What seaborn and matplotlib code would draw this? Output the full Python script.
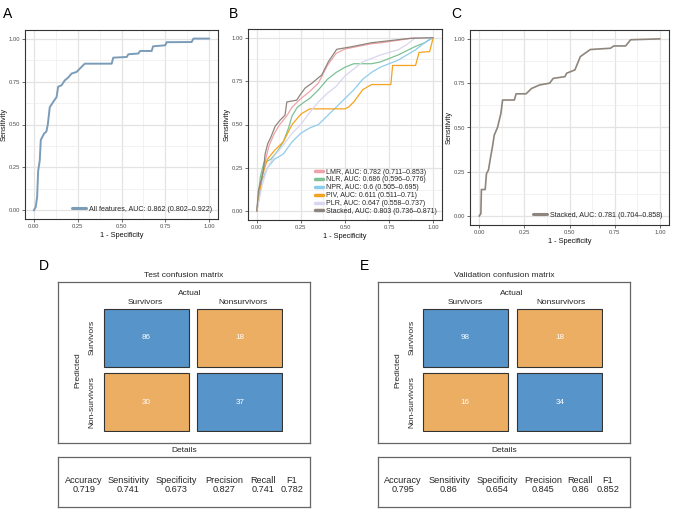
import matplotlib
matplotlib.use("Agg")
import matplotlib.pyplot as plt
import seaborn as sns
import pandas as pd
import numpy as np

# ---------------- data ----------------
a_fpr = [0, 0.011, 0.019, 0.025, 0.034, 0.04, 0.05, 0.059, 0.072, 0.08, 0.091, 0.11, 0.13, 0.139,
         0.158, 0.177, 0.196, 0.215, 0.244, 0.272, 0.291, 0.444, 0.453, 0.53, 0.539, 0.596, 0.606,
         0.672, 0.68, 0.749, 0.758, 0.9, 0.91, 1.0]
a_tpr = [0, 0.02, 0.078, 0.23, 0.29, 0.41, 0.43, 0.447, 0.46, 0.50, 0.60, 0.63, 0.66, 0.72,
         0.728, 0.757, 0.773, 0.796, 0.806, 0.835, 0.854, 0.854, 0.889, 0.893, 0.909, 0.913, 0.928,
         0.928, 0.955, 0.961, 0.979, 0.98, 1.0, 1.0]
a_label = "All features, AUC: 0.862 (0.802\u20130.922)"

b_models = ["LMR", "NLR", "NPR", "PIV", "PLR", "Stacked"]
b_labels = ["LMR, AUC: 0.782 (0.711\u20130.853)",
            "NLR, AUC: 0.686 (0.596\u20130.776)",
            "NPR, AUC: 0.6 (0.505\u20130.695)",
            "PIV, AUC: 0.611 (0.511\u20130.71)",
            "PLR, AUC: 0.647 (0.558\u20130.737)",
            "Stacked, AUC: 0.803 (0.736\u20130.871)"]
lmr_fpr = [0, 0.01, 0.03, 0.05, 0.07, 0.1, 0.13, 0.17, 0.2, 0.25, 0.3, 0.35, 0.4, 0.45, 0.5,
           0.55, 0.6, 0.65, 0.7, 0.8, 0.9, 1.0]
lmr_tpr = [0, 0.1, 0.2, 0.3, 0.38, 0.45, 0.5, 0.55, 0.6, 0.65, 0.69, 0.74, 0.84, 0.91, 0.935,
           0.945, 0.955, 0.965, 0.97, 0.985, 1.0, 1.0]
nlr_fpr = [0, 0.02, 0.04, 0.08, 0.12, 0.15, 0.18, 0.2, 0.23, 0.27, 0.3, 0.35, 0.4, 0.45, 0.5,
           0.55, 0.65, 0.7, 0.8, 0.9, 0.95, 0.98, 1.0]
nlr_tpr = [0, 0.2, 0.28, 0.3, 0.35, 0.4, 0.48, 0.55, 0.6, 0.63, 0.65, 0.7, 0.76, 0.8, 0.83,
           0.85, 0.85, 0.86, 0.9, 0.95, 0.97, 0.99, 1.0]
npr_fpr = [0, 0.03, 0.06, 0.1, 0.15, 0.2, 0.25, 0.3, 0.35, 0.4, 0.45, 0.5, 0.55, 0.6, 0.65,
           0.7, 0.75, 0.8, 0.85, 0.9, 0.95, 1.0]
npr_tpr = [0, 0.18, 0.25, 0.3, 0.33, 0.4, 0.45, 0.48, 0.5, 0.55, 0.6, 0.65, 0.7, 0.76, 0.8,
           0.83, 0.85, 0.87, 0.9, 0.93, 0.97, 1.0]
piv_fpr = [0, 0.03, 0.06, 0.1, 0.15, 0.2, 0.25, 0.3, 0.35, 0.5, 0.52, 0.55, 0.6, 0.65, 0.7,
           0.76, 0.77, 0.85, 0.9, 0.92, 0.98, 1.0]
piv_tpr = [0, 0.2, 0.3, 0.35, 0.4, 0.5, 0.56, 0.59, 0.59, 0.59, 0.6, 0.63, 0.7, 0.73, 0.73,
           0.73, 0.84, 0.84, 0.84, 0.915, 0.92, 1.0]
plr_fpr = [0, 0.03, 0.06, 0.1, 0.15, 0.2, 0.25, 0.3, 0.35, 0.4, 0.45, 0.5, 0.55, 0.6, 0.65,
           0.7, 0.8, 0.85, 0.9, 1.0]
plr_tpr = [0, 0.15, 0.25, 0.32, 0.38, 0.45, 0.5, 0.57, 0.63, 0.68, 0.72, 0.78, 0.82, 0.86, 0.88,
           0.9, 0.93, 0.96, 1.0, 1.0]
stk_fpr = [0, 0.009, 0.025, 0.038, 0.047, 0.062, 0.081, 0.104, 0.132, 0.16, 0.17, 0.226, 0.245,
           0.274, 0.311, 0.368, 0.406, 0.453, 0.538, 0.651, 0.868, 1.0]
stk_tpr = [0, 0.12, 0.18, 0.24, 0.33, 0.39, 0.43, 0.49, 0.525, 0.554, 0.63, 0.64, 0.67,
           0.71, 0.737, 0.785, 0.862, 0.933, 0.948, 0.971, 0.996, 1.0]

c_fpr = [0, 0.01, 0.013, 0.034, 0.041, 0.052, 0.065, 0.074, 0.084, 0.102, 0.121, 0.13, 0.195,
         0.205, 0.26, 0.29, 0.335, 0.39, 0.41, 0.475, 0.484, 0.53, 0.56, 0.615, 0.726, 0.745,
         0.81, 0.838, 1.0]
c_tpr = [0, 0.013, 0.15, 0.15, 0.24, 0.26, 0.34, 0.39, 0.457, 0.5, 0.58, 0.655, 0.655,
         0.69, 0.69, 0.72, 0.74, 0.75, 0.777, 0.787, 0.806, 0.825, 0.9, 0.94, 0.947, 0.96,
         0.96, 0.995, 1.0]
c_label = "Stacked, AUC: 0.781 (0.704\u20130.858)"

roc_ticks = [0, 0.25, 0.5, 0.75, 1.0]
roc_ticklabels = ["0.00", "0.25", "0.50", "0.75", "1.00"]

cm_classes = ["Survivors", "Nonsurvivors"]
cm_rows = ["Survivors", "Non-survivors"]
cm_test = [[86, 18], [30, 37]]
cm_valid = [[98, 18], [16, 34]]
metric_names = ["Accuracy", "Sensitivity", "Specificity", "Precision", "Recall", "F1"]
metrics_test = ["0.719", "0.741", "0.673", "0.827", "0.741", "0.782"]
metrics_valid = ["0.795", "0.86", "0.654", "0.845", "0.86", "0.852"]

# ---------------- style ----------------
sns.set_theme(style="white")
plt.rcParams['font.family'] = ['Liberation Sans', 'DejaVu Sans']

W, H = 676, 515
fig = plt.figure(figsize=(W / 100, H / 100), dpi=100)


def add_ax(x0, y0, x1, y1):
    return fig.add_axes([x0 / W, 1 - y1 / H, (x1 - x0) / W, (y1 - y0) / H])


def ftext(x, y, s, **kw):
    fig.text(x / W, 1 - y / H, s, **kw)


def style_roc(ax):
    ax.set_xlim(-0.05, 1.05)
    ax.set_ylim(-0.05, 1.05)
    ax.set_xticks(roc_ticks)
    ax.set_xticklabels(roc_ticklabels)
    ax.set_yticks(roc_ticks)
    ax.set_yticklabels(roc_ticklabels)
    ax.set_xticks([0.125, 0.375, 0.625, 0.875], minor=True)
    ax.set_yticks([0.125, 0.375, 0.625, 0.875], minor=True)
    ax.grid(which='major', color='#E3E3E3', lw=0.9)
    ax.grid(which='minor', color='#EDEDED', lw=0.5)
    ax.set_axisbelow(True)
    ax.tick_params(which='major', length=2, width=0.5, color='#333333',
                   labelsize=4.2, labelcolor='#4D4D4D', pad=1.5, bottom=True, left=True)
    ax.tick_params(which='minor', length=0)
    for s in ax.spines.values():
        s.set_color('#333333')
        s.set_linewidth(0.8)
    ax.set_xlabel("1 - Specificity", fontsize=5.3, labelpad=2, color='#111111')
    ax.set_ylabel("Sensitivity", fontsize=5.3, labelpad=1, color='#111111')


# ---------------- Panel A ----------------
axA = add_ax(25, 30, 218, 219)
dfA = pd.DataFrame({"fpr": a_fpr, "tpr": a_tpr, "model": a_label})
sns.lineplot(data=dfA, x="fpr", y="tpr", hue="model", palette=["#7B9CB9"],
             sort=False, estimator=None, lw=1.4, ax=axA)
style_roc(axA)
axA.legend(loc='lower right', frameon=False, fontsize=5.1, handlelength=2.0,
           borderaxespad=0.5, handletextpad=0.4)
for l in axA.get_legend().get_lines():
    l.set_linewidth(2.2)

# ---------------- Panel B ----------------
axB = add_ax(248, 29, 442, 220)
b_fprs = [lmr_fpr, nlr_fpr, npr_fpr, piv_fpr, plr_fpr, stk_fpr]
b_tprs = [lmr_tpr, nlr_tpr, npr_tpr, piv_tpr, plr_tpr, stk_tpr]
dfB = pd.concat([pd.DataFrame({"fpr": f, "tpr": t, "model": lab})
                 for f, t, lab in zip(b_fprs, b_tprs, b_labels)], ignore_index=True)
b_colors = ["#EFA3A8", "#7DC195", "#8FCCEC", "#F5A31E", "#D9D6EE", "#8E857C"]
sns.lineplot(data=dfB, x="fpr", y="tpr", hue="model", hue_order=b_labels,
             palette=b_colors, sort=False, estimator=None, lw=0.9, ax=axB)
style_roc(axB)
axB.legend(loc='lower right', frameon=False, fontsize=5.0, handlelength=1.2,
           borderaxespad=0.35, handletextpad=0.4, labelspacing=0.12)
for l in axB.get_legend().get_lines():
    l.set_linewidth(2.5)

# ---------------- Panel C ----------------
axC = add_ax(470, 30, 669, 225)
dfC = pd.DataFrame({"fpr": c_fpr, "tpr": c_tpr, "model": c_label})
sns.lineplot(data=dfC, x="fpr", y="tpr", hue="model", palette=["#8E857C"],
             sort=False, estimator=None, lw=1.2, ax=axC)
style_roc(axC)
axC.legend(loc='lower right', frameon=False, fontsize=5.1, handlelength=2.0,
           borderaxespad=0.5, handletextpad=0.4)
for l in axC.get_legend().get_lines():
    l.set_linewidth(2.2)

# panel letters
for lx, ly, s in [(3, 18, "A"), (229, 18, "B"), (451, 18, "C"), (39, 270, "D"), (360, 270, "E")]:
    ftext(lx, ly, s, fontsize=10, ha='left', va='baseline', color='black')


# ---------------- Confusion matrices ----------------
def conf_panel(cm, metrics, title, box, cells, actual_x, col_x, pred_x, rowlab_x, metric_x):
    bx0, bx1 = box
    ob = add_ax(bx0, 282, bx1, 443)
    ob.set_xticks([]); ob.set_yticks([])
    ob.patch.set_alpha(0)
    for s in ob.spines.values():
        s.set_color('#666666'); s.set_linewidth(0.9)
    ftext((bx0 + bx1) / 2, 277, title, fontsize=6, ha='center', va='baseline')
    ftext(actual_x, 295, "Actual", fontsize=6, ha='center', va='baseline')
    for cx, lab in zip(col_x, cm_classes):
        ftext(cx, 304.5, lab, fontsize=6, ha='center', va='baseline')
    ftext(pred_x, 370, "Predicted", fontsize=6, ha='center', va='center', rotation=90)
    for ry, lab in zip([337.5, 402.5], cm_rows):
        ftext(rowlab_x, ry, lab, fontsize=6, ha='center', va='center', rotation=90)
    cx0, cx1 = cells
    ax = add_ax(cx0, 308, cx1, 432)
    wbar, hbar = 0.905, 0.908
    for r in range(2):
        cols = ["#5694CA" if c == r else "#ECAE62" for c in range(2)]
        ax.bar([0, 1], [hbar, hbar], bottom=[r - hbar / 2] * 2, width=wbar,
               color=cols, edgecolor='#333333', linewidth=0.8)
        for c in range(2):
            ax.text(c, r, str(cm[r][c]), color='white', fontsize=5.8,
                    ha='center', va='center')
    ax.set_xlim(-wbar / 2 - 0.006, 1 + wbar / 2 + 0.006)
    ax.set_ylim(1 + hbar / 2 + 0.008, -hbar / 2 - 0.008)
    ax.axis('off')
    ftext((bx0 + bx1) / 2, 452.5, "Details", fontsize=6, ha='center', va='baseline')
    db = add_ax(bx0, 457, bx1, 507)
    db.set_xticks([]); db.set_yticks([])
    for s in db.spines.values():
        s.set_color('#666666'); s.set_linewidth(0.9)
    for mx, name, val in zip(metric_x, metric_names, metrics):
        ftext(mx, 483, name, fontsize=6.6, ha='center', va='baseline')
        ftext(mx, 492, val, fontsize=6.6, ha='center', va='baseline')


conf_panel(cm_test, metrics_test, "Test confusion matrix", (58, 310), (103, 283),
           190, [145, 243], 78, 92, [84, 128, 176, 224, 263, 292])
conf_panel(cm_valid, metrics_valid, "Validation confusion matrix", (378, 630), (422, 603),
           512, [465, 561], 398, 412, [403, 449, 497, 543, 580, 608])

fig.savefig("out.png", dpi=100)
